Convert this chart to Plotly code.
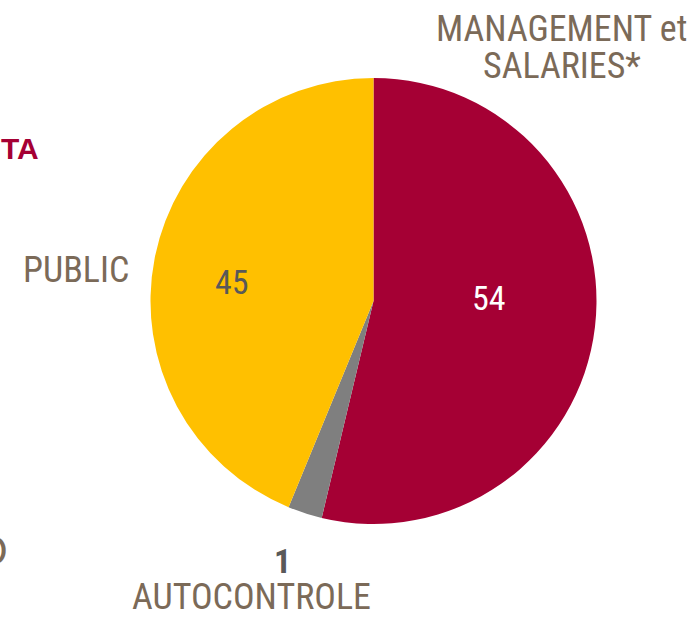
import plotly.graph_objects as go

W, H = 695, 621

categories = ["MANAGEMENT et SALARIES*", "AUTOCONTROLE", "PUBLIC"]
label_lines = [["MANAGEMENT et", "SALARIES*"], ["AUTOCONTROLE"], ["PUBLIC"]]
slice_values = [54, 2.5, 44]
value_labels = ["54", "1", "45"]
slice_colors = ["#A50034", "#7F7F7F", "#FFC000"]

FONT = "Liberation Sans Narrow, Arial Narrow, Roboto Condensed, sans-serif"
BROWN = "#7B6A58"

fig = go.Figure()
fig.add_trace(go.Pie(
    labels=categories,
    values=slice_values,
    sort=False,
    direction="clockwise",
    rotation=0,
    marker=dict(colors=slice_colors, line=dict(width=0)),
    textinfo="none",
    hoverinfo="label+value",
    showlegend=False,
    domain=dict(x=[(373.5 - 223) / W, (373.5 + 223) / W],
                y=[(H - 301 - 223) / H, (H - 301 + 223) / H]),
))

def px(x, y):
    return x / W, 1 - y / H

annots = [
    # category labels
    (label_lines[0][0], 561, 29, BROWN, 36, False),
    (label_lines[0][1], 562, 66, BROWN, 36, False),
    (label_lines[2][0], 76, 270, BROWN, 36, False),
    (label_lines[1][0], 251, 597, BROWN, 36, False),
    # value labels
    (value_labels[0], 489, 298, "#FFFFFF", 34, False),
    (value_labels[2], 232, 282, "#595959", 34, False),
    (value_labels[1], 282, 561, "#595959", 34, True),
]
for text, x, y, color, size, bold in annots:
    ax, ay = px(x, y)
    fig.add_annotation(
        x=ax, y=ay, xref="paper", yref="paper",
        text=f"<b>{text}</b>" if bold else text,
        showarrow=False, xanchor="center", yanchor="middle",
        font=dict(family=FONT, size=size, color=color),
        align="center",
    )

# cropped fragments of neighbouring content at the left edge
fx, fy = px(41, 149)
fig.add_annotation(x=fx, y=fy, xref="paper", yref="paper", text="<b>TA</b>",
                   showarrow=False, xanchor="right", yanchor="middle",
                   font=dict(family="Liberation Sans, Arial, sans-serif", size=30, color="#A50034"))
fx, fy = px(10, 550)
fig.add_annotation(x=fx, y=fy, xref="paper", yref="paper", text="O",
                   showarrow=False, xanchor="right", yanchor="middle",
                   font=dict(family="Liberation Sans, Arial, sans-serif", size=42, color=BROWN))

fig.update_layout(
    width=W, height=H,
    margin=dict(l=0, r=0, t=0, b=0),
    paper_bgcolor="white",
    plot_bgcolor="white",
)

fig.write_html("out.html", config={"displayModeBar": False},
               post_script="document.body.style.margin='0';document.body.style.overflow='hidden';")
